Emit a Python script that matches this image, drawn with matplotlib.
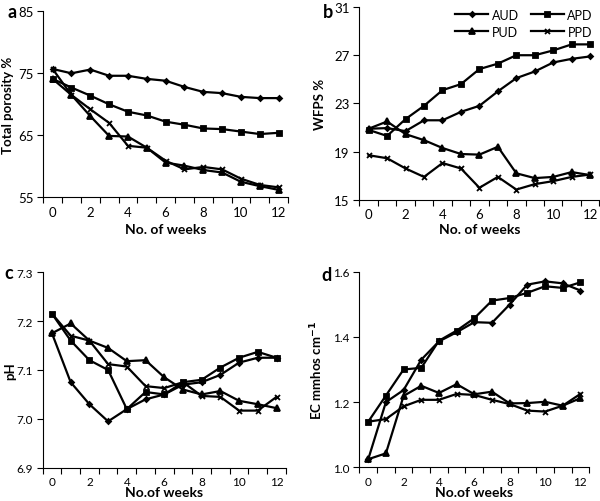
import matplotlib.pyplot as plt
import numpy as np

plt.rcParams['font.family'] = ['Lato', 'DejaVu Sans']

weeks = list(range(13))
week_labels = ['0', '2', '4', '6', '8', '10', '12']
names = ['AUD', 'APD', 'PUD', 'PPD']

# total porosity %
por_aud = [75.7, 75.0, 75.6, 74.6, 74.6, 74.1, 73.8, 72.8, 72.0, 71.8, 71.2, 71.0, 71.0]
por_apd = [74.1, 72.7, 71.4, 70.0, 68.8, 68.2, 67.2, 66.7, 66.1, 66.0, 65.6, 65.2, 65.4]
por_pud = [74.1, 71.5, 68.1, 64.9, 64.8, 63.0, 60.6, 60.1, 59.4, 59.0, 57.5, 56.8, 56.2]
por_ppd = [75.7, 71.5, 69.2, 67.0, 63.3, 63.0, 60.9, 59.5, 59.9, 59.5, 58.0, 57.0, 56.6]

# WFPS %
wfps_aud = [20.9, 20.95, 20.7, 21.6, 21.6, 22.3, 22.8, 24.0, 25.1, 25.65, 26.4, 26.7, 26.9]
wfps_apd = [20.8, 20.3, 21.7, 22.8, 24.1, 24.6, 25.85, 26.3, 27.0, 27.0, 27.4, 27.9, 27.9]
wfps_pud = [20.9, 21.5, 20.45, 19.95, 19.3, 18.8, 18.75, 19.4, 17.2, 16.8, 16.9, 17.3, 17.05]
wfps_ppd = [18.7, 18.45, 17.6, 16.9, 18.05, 17.6, 16.0, 16.9, 15.85, 16.3, 16.55, 16.9, 17.1]

# pH
ph_aud = [7.175, 7.075, 7.03, 6.995, 7.02, 7.04, 7.05, 7.07, 7.075, 7.09, 7.115, 7.125, 7.125]
ph_apd = [7.215, 7.16, 7.12, 7.10, 7.02, 7.055, 7.05, 7.075, 7.08, 7.105, 7.125, 7.137, 7.125]
ph_pud = [7.175, 7.195, 7.16, 7.145, 7.118, 7.12, 7.085, 7.06, 7.05, 7.057, 7.037, 7.03, 7.022]
ph_ppd = [7.215, 7.17, 7.16, 7.112, 7.107, 7.067, 7.063, 7.075, 7.047, 7.045, 7.017, 7.017, 7.045]

# EC mmhos/cm
ec_aud = [1.025, 1.20, 1.237, 1.33, 1.386, 1.414, 1.445, 1.443, 1.499, 1.56, 1.57, 1.564, 1.542]
ec_apd = [1.14, 1.22, 1.30, 1.305, 1.388, 1.419, 1.457, 1.511, 1.519, 1.535, 1.555, 1.55, 1.567]
ec_pud = [1.025, 1.043, 1.219, 1.25, 1.228, 1.255, 1.224, 1.232, 1.196, 1.197, 1.201, 1.189, 1.212]
ec_ppd = [1.14, 1.148, 1.187, 1.207, 1.207, 1.225, 1.222, 1.207, 1.194, 1.174, 1.171, 1.189, 1.225]

markers = {'AUD': ('D', 2.6), 'APD': ('s', 3.6), 'PUD': ('^', 3.8), 'PPD': ('x', 3.6)}

fig = plt.figure(figsize=(6.0, 5.02), dpi=100)

def panel(rect, series, ylim, yticks, yfmt, ylabel, ylab_x, xlab, xlab_y,
          letter, letter_xy, fs=9.5):
    ax = fig.add_axes(rect)
    for nm, ys in zip(names, series):
        m, ms = markers[nm]
        ax.plot(weeks, ys, color='black', lw=1.6, marker=m, markersize=ms,
                markeredgewidth=1.3, label=nm)
    ax.set_xlim(-0.5, 12.5)
    ax.set_ylim(*ylim)
    ax.set_yticks(yticks)
    ax.set_yticklabels([yfmt % t for t in yticks])
    # category axis: tick marks between weeks, labels on every other week
    ax.set_xticks(np.arange(-0.5, 13, 1))
    ax.set_xticklabels([])
    ax.set_xticks(weeks[::2], minor=True)
    ax.set_xticklabels(week_labels, minor=True)
    ax.tick_params(axis='x', which='major', direction='out', length=4, width=0.8)
    ax.tick_params(axis='x', which='minor', length=0, labelsize=fs, pad=6)
    ax.tick_params(axis='y', direction='out', length=4, width=0.8, labelsize=fs, pad=3)
    for s in ['top', 'right']:
        ax.spines[s].set_visible(False)
    ax.set_ylabel(ylabel, fontsize=9.5, fontweight='bold')
    ax.yaxis.set_label_coords(ylab_x, 0.5)
    ax.set_xlabel(xlab, fontsize=10, fontweight='bold')
    ax.xaxis.set_label_coords(0.5, xlab_y)
    fig.text(letter_xy[0], letter_xy[1], letter, fontsize=13, fontweight='bold',
             ha='left', va='center')
    return ax

panel([0.072, 0.605, 0.408, 0.3705], [por_aud, por_apd, por_pud, por_ppd],
      (55, 85), [55, 65, 75, 85], '%d', 'Total porosity %', -0.12,
      'No. of weeks', -0.14, 'a', (0.012, 0.975))
axb = panel([0.599, 0.600, 0.400, 0.384], [wfps_aud, wfps_apd, wfps_pud, wfps_ppd],
            (15, 31), [15, 19, 23, 27, 31], '%d', 'WFPS %', -0.14,
            'No. of weeks', -0.12, 'b', (0.538, 0.975))
panel([0.071, 0.066, 0.4055, 0.39], [ph_aud, ph_apd, ph_pud, ph_ppd],
      (6.9, 7.3), [6.9, 7.0, 7.1, 7.2, 7.3], '%.1f', 'pH', -0.11,
      'No.of weeks', -0.095, 'c', (0.008, 0.456), fs=8.5)
panel([0.599, 0.067, 0.383, 0.39], [ec_aud, ec_apd, ec_pud, ec_ppd],
      (1.0, 1.6), [1.0, 1.2, 1.4, 1.6], '%.1f', r'EC mmhos cm$^{\mathbf{-1}}$', -0.15,
      'No.of weeks', -0.095, 'd', (0.535, 0.452), fs=8.5)

# legend rows: AUD APD / PUD PPD
h, l = axb.get_legend_handles_labels()
order = [0, 2, 1, 3]
axb.legend([h[i] for i in order], [l[i] for i in order], ncol=2, loc='upper right',
           bbox_to_anchor=(1.02, 1.05), frameon=False, fontsize=9, handlelength=2.6,
           columnspacing=1.0, handletextpad=0.3, labelspacing=0.4)

fig.savefig('out.png', dpi=100)
